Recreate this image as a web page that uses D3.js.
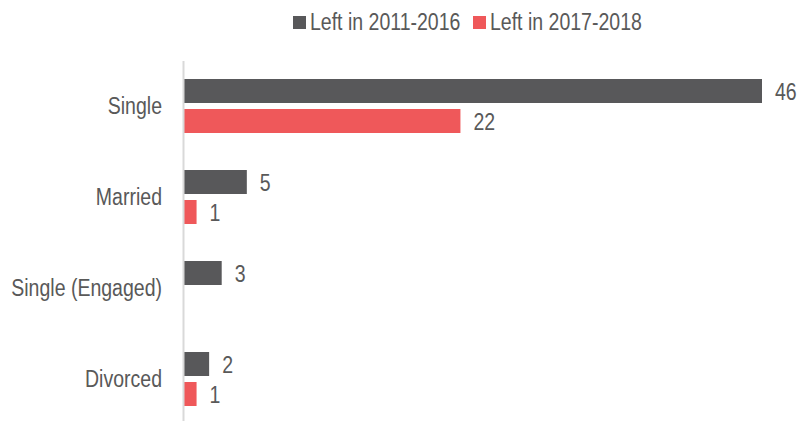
<!DOCTYPE html>
<html>
<head>
<meta charset="utf-8">
<script src="https://cdn.jsdelivr.net/npm/d3@7"></script>
<style>
  html, body { margin: 0; padding: 0; background: #fff; }
  svg { display: block; }
  text { font-family: "Liberation Sans", Arial, sans-serif; fill: #595959; }
</style>
</head>
<body>
<svg id="chart" width="801" height="421"></svg>
<script>
const categories = ["Single", "Married", "Single (Engaged)", "Divorced"];
const seriesNames = ["Left in 2011-2016", "Left in 2017-2018"];
const series2011_2016 = [46, 5, 3, 2];
const series2017_2018 = [22, 1, null, 1];
const seriesColors = ["#58585a", "#ef585a"];

const svg = d3.select("#chart");
const fontSize = 23.5;
const narrow = 0.83; // emulate a narrow (condensed) face

const y = d3.scaleBand().domain(categories).range([60.5, 424.5]).padding(0);
const inner = d3.scaleBand().domain([0, 1]).range([0, 54]).paddingInner(0.2);
const x = d3.scaleLinear().domain([0, 46]).range([184, 762]);

const seriesData = [series2011_2016, series2017_2018];

// bars
seriesData.forEach((vals, si) => {
  const g = svg.append("g");
  const rows = categories.map((c, i) => ({ c, v: vals[i] })).filter(d => d.v != null);
  g.selectAll("rect").data(rows).join("rect")
    .attr("x", x(0))
    .attr("y", d => y(d.c) + y.bandwidth() / 2 - 27 + inner(si))
    .attr("width", d => x(d.v) - x(0))
    .attr("height", inner.bandwidth())
    .attr("fill", seriesColors[si]);
  g.selectAll("text").data(rows).join("text")
    .attr("x", d => x(d.v) + 13)
    .attr("y", d => y(d.c) + y.bandwidth() / 2 - 27 + inner(si) + inner.bandwidth() / 2 + 8.5)
    .attr("font-size", fontSize)
    .text(d => d.v);
});

// axis
const axis = svg.append("g").attr("transform", "translate(183,0)")
  .call(d3.axisLeft(y).tickSize(0).tickPadding(21));
axis.select(".domain").attr("stroke", "#d9d9d9").attr("stroke-width", 2);
axis.selectAll("text").attr("font-size", fontSize)
  .attr("font-family", "'Liberation Sans', Arial, sans-serif")
  .attr("fill", "#595959").attr("dy", "0.35em");

// legend
const legendX = [293, 473];
seriesNames.forEach((n, i) => {
  svg.append("rect").attr("x", legendX[i]).attr("y", 16).attr("width", 13).attr("height", 13)
    .attr("fill", seriesColors[i]);
  svg.append("text").attr("x", legendX[i] + 17).attr("y", 29.5)
    .attr("font-size", fontSize).text(n);
});

// condense all text horizontally
svg.selectAll("text").each(function () {
  const len = this.getComputedTextLength();
  d3.select(this).attr("textLength", len * narrow).attr("lengthAdjust", "spacingAndGlyphs");
});
</script>
</body>
</html>
